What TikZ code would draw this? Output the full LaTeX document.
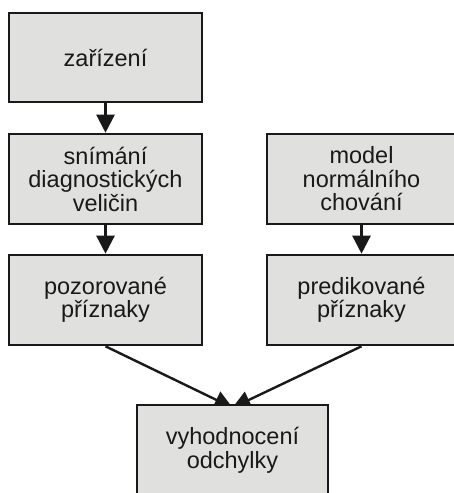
\documentclass[tikz,border=0pt]{standalone}
\usepackage{fontspec}
\setmainfont{Liberation Sans}
\usetikzlibrary{arrows.meta}
\pgfdeclarelayer{background}
\pgfsetlayers{background,main}
\definecolor{boxfill}{RGB}{224,224,222}
\definecolor{ink}{RGB}{25,25,25}
\begin{document}
\begin{tikzpicture}[x=1pt,y=-1pt,
  box/.style={draw=ink, fill=boxfill, line width=2.6pt, rectangle, align=center,
    inner sep=0pt, text=ink, font=\fontsize{23.5}{23.5}\selectfont},
  arr/.style={draw=ink, line width=2.4pt, -{Triangle[length=18pt,width=18pt]}}]
\useasboundingbox (0,0) rectangle (454,493);
\node[box, minimum width=193pt, minimum height=89pt] (zar) at (105.5,57.5) {zařízení};
\node[box, minimum width=193pt, minimum height=90pt] (snim) at (105.5,179) {snímání\\diagnostických\\veličin};
\node[box, minimum width=189pt, minimum height=90pt] (model) at (361.5,179) {model\\normálního\\chování};
\node[box, minimum width=193pt, minimum height=90pt] (poz) at (105.5,300) {pozorované\\příznaky};
\node[box, minimum width=189pt, minimum height=90pt] (pred) at (361.5,300) {predikované\\příznaky};
\node[box, minimum width=191pt, minimum height=91pt] (vyh) at (232.5,450.5) {vyhodnocení\\odchylky};
\begin{pgfonlayer}{background}
\fill[white] (0,0) rectangle (454,493);
\draw[arr] (zar) -- (snim);
\draw[arr] (snim) -- (poz);
\draw[arr] (model) -- (pred);
\draw[arr] (poz.south) -- ([yshift=-4pt]vyh.north);
\draw[arr] (pred.south) -- ([yshift=-4pt]vyh.north);
\end{pgfonlayer}
\end{tikzpicture}
\end{document}
